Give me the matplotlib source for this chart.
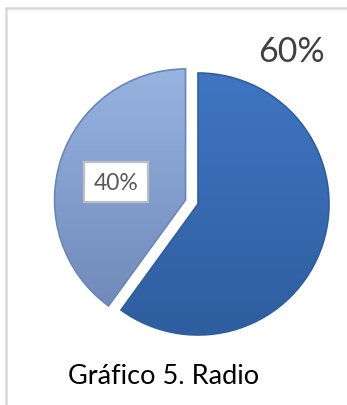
"""Gráfico 5. Radio - pie chart de dos sectores."""

import matplotlib
matplotlib.use("Agg")
import matplotlib.pyplot as plt
import numpy as np
from matplotlib.colors import LinearSegmentedColormap
from matplotlib.patches import Rectangle, Wedge

# Datos
labels = ["60%", "40%"]
values = [60, 40]
explode = [0.0, 0.1]

# Colores (arriba -> abajo)
top_colors = ["#3f75c1", "#97b3e0"]
bottom_colors = ["#2f5e9f", "#6c86b6"]

W, H = 347, 406
fig = plt.figure(figsize=(W / 100, H / 100), dpi=100)
fig.patch.set_facecolor("white")

# Escala: centro del pie en (198, 205) px, radio 131 px
cx, cy, r = 198, 205, 131
ax = fig.add_axes([0, 0, 1, 1])
wedges, _ = ax.pie(
    values,
    explode=explode,
    startangle=90,
    counterclock=False,
    colors=top_colors,
    wedgeprops=dict(edgecolor="none"),
)
ax.set_aspect("auto")
ax.axis("off")

# Degradado vertical dentro de cada sector
for w, c_top, c_bot in zip(wedges, top_colors, bottom_colors):
    cmap = LinearSegmentedColormap.from_list("g", [c_bot, c_top])
    grad = np.linspace(0, 1, 256).reshape(-1, 1)
    cxw, cyw = w.center
    im = ax.imshow(
        grad,
        cmap=cmap,
        origin="lower",
        extent=(cxw - 1, cxw + 1, cyw - 1, cyw + 1),
        aspect="auto",
        zorder=w.get_zorder() + 0.1,
    )
    im.set_clip_path(w)
    outline = Wedge(
        w.center, w.r, w.theta1, w.theta2,
        facecolor="none", edgecolor=c_bot, linewidth=1.2,
        zorder=w.get_zorder() + 0.2,
    )
    ax.add_patch(outline)

ax.set_xlim(-cx / r, (W - cx) / r)
ax.set_ylim((cy - H) / r, cy / r)

# Borde del área del gráfico
fig.patches.append(Rectangle(
    (6 / W, -0.01), (W + 10) / W, (H - 9) / H + 0.01,
    transform=fig.transFigure, facecolor="none",
    edgecolor="#d9d9d9", linewidth=1.8, zorder=0,
))

# Etiquetas de datos
fig.text(291 / W, 1 - 52 / H, labels[0], fontsize=24.5, family="Lato",
         color="#404040", ha="center", va="center")
fig.text(116 / W, 1 - 183 / H, labels[1], fontsize=16.5, family="Lato",
         color="#595959", ha="center", va="center",
         bbox=dict(boxstyle="square,pad=0.42", facecolor="white",
                   edgecolor="#bfbfbf", linewidth=1.6))

# Título
fig.text(164 / W, 1 - 377 / H, "Gráfico 5. Radio", fontsize=19.5,
         family="Lato", color="black", ha="center", va="center")

fig.savefig("out.png", dpi=100)
